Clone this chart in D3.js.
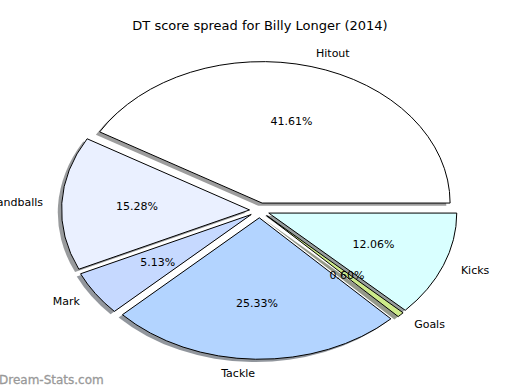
<!DOCTYPE html>
<html>
<head>
<meta charset="utf-8">
<script src="https://cdn.jsdelivr.net/npm/d3@7"></script>
<style>
  body { margin: 0; background: #fff; }
  text { font-family: "DejaVu Sans", sans-serif; }
</style>
</head>
<body>
<svg width="520" height="390"></svg>
<script>
const categories = ["Hitout", "Handballs", "Mark", "Tackle", "Goals", "Kicks"];
const shares = [41.61, 15.28, 5.13, 25.33, 0.60, 12.06];
const colors = ["#ffffff", "#eaf0ff", "#c6d9ff", "#b3d4ff", "#cdea8a", "#d9ffff"];

var svg = d3.select("svg"),
  cx = 259.5,
  cy = 210.3,
  rx = 188,
  ry = 141.5,
  explode = 0.053;

// pie space is -1..1 in both directions, stretched into an ellipse
var x = d3.scaleLinear().domain([-1, 1]).range([cx - rx, cx + rx]);
var y = d3.scaleLinear().domain([-1, 1]).range([cy + ry, cy - ry]);

// start at 3 o'clock, go counter-clockwise (like matplotlib)
var pie = d3.pie().sort(null).startAngle(Math.PI / 2).endAngle(Math.PI / 2 - 2 * Math.PI);
var arcs = pie(shares);
var arc = d3.arc().innerRadius(0).outerRadius(1);

arcs.forEach((d) => {
  d.mid = (d.startAngle + d.endAngle) / 2;
  d.ux = Math.sin(d.mid);
  d.uy = Math.cos(d.mid);
  d.ox = explode * d.ux;
  d.oy = explode * d.uy;
});

function wedgeTransform(d, sx, sy) {
  return "translate(" + (x(d.ox) + sx) + "," + (y(d.oy) + sy) + ") scale(" + rx + "," + ry + ")";
}

// shadows
svg.append("g").selectAll("path")
  .data(arcs)
  .enter()
  .append("path")
  .attr("d", arc)
  .attr("transform", (d) => wedgeTransform(d, -3.8, 2.8))
  .attr("fill", (d, i) => {
    var c = d3.rgb(colors[i]);
    return d3.rgb(c.r * 0.3, c.g * 0.3, c.b * 0.3).copy({ opacity: 0.55 });
  })
  .attr("stroke", "none");

// wedges
svg.append("g").selectAll("path")
  .data(arcs)
  .enter()
  .append("path")
  .attr("d", arc)
  .attr("transform", (d) => wedgeTransform(d, 0, 0))
  .attr("fill", (d, i) => colors[i])
  .attr("stroke", "#000")
  .attr("stroke-width", 1)
  .attr("vector-effect", "non-scaling-stroke");

// category labels
svg.append("g").selectAll("text")
  .data(arcs)
  .enter()
  .append("text")
  .attr("x", (d) => x(d.ox + 1.1 * d.ux))
  .attr("y", (d) => y(d.oy + 1.1 * d.uy))
  .attr("dy", "0.35em")
  .attr("text-anchor", (d) => (d.ux > 0 ? "start" : "end"))
  .attr("font-size", 11)
  .text((d, i) => categories[i]);

// percentage labels
svg.append("g").selectAll("text")
  .data(arcs)
  .enter()
  .append("text")
  .attr("x", (d) => x(d.ox + 0.6 * d.ux))
  .attr("y", (d) => y(d.oy + 0.6 * d.uy))
  .attr("dy", "0.35em")
  .attr("text-anchor", "middle")
  .attr("font-size", 11)
  .text((d, i) => shares[i].toFixed(2) + "%");

svg.append("text")
  .attr("x", 260)
  .attr("y", 30)
  .attr("text-anchor", "middle")
  .attr("font-size", 13)
  .text("DT score spread for Billy Longer (2014)");

svg.append("text")
  .attr("x", -1)
  .attr("y", 384)
  .attr("font-size", 12)
  .attr("fill", "#999999")
  .attr("stroke", "#999999")
  .attr("stroke-width", 0.3)
  .text("Dream-Stats.com");
</script>
</body>
</html>
